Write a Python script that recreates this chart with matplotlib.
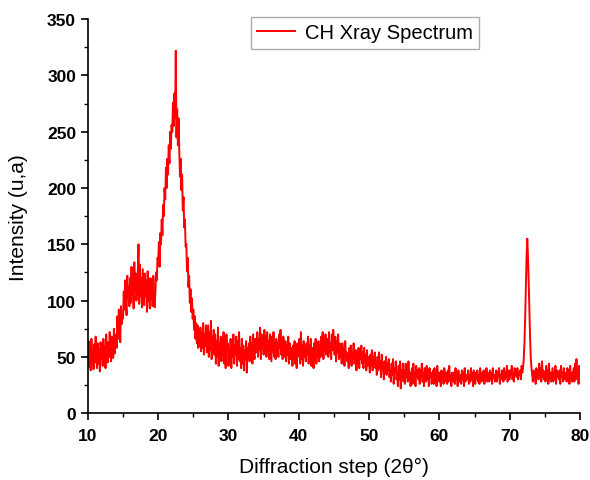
import numpy as np
import matplotlib
matplotlib.use("Agg")
import matplotlib.pyplot as plt
from matplotlib.ticker import MultipleLocator

# Diffraction angle 2theta, 10.0 .. 80.0 in 0.1 steps
two_theta = np.round(np.arange(100, 801) / 10.0, 1)

# Intensity values (one row per degree, 10 values)
intensity = [
    52, 64, 41, 58, 38, 66, 47, 55, 39, 61,      # 10
    45, 68, 50, 40, 62, 44, 57, 37, 63, 49,      # 11
    56, 42, 66, 48, 59, 40, 70, 52, 45, 63,      # 12
    50, 72, 55, 46, 68, 58, 49, 75, 53, 64,      # 13
    70, 58, 86, 66, 92, 74, 63, 95, 79, 88,      # 14
    84, 108, 92, 118, 98, 87, 122, 102, 113, 95, # 15
    120, 98, 130, 105, 116, 93, 134, 108, 124, 100,  # 16
    110, 126, 150, 97, 132, 104, 120, 94, 128, 112,  # 17
    96, 124, 104, 118, 90, 126, 100, 114, 93, 120,   # 18
    102, 118, 95, 122, 99, 94, 108, 125, 118, 138,   # 19
    135, 152, 130, 160, 150, 172, 158, 185, 175, 200,  # 20
    190, 218, 200, 226, 212, 238, 222, 250, 235, 256,  # 21
    250, 276, 255, 284, 262, 322, 245, 270, 238, 262,  # 22
    232, 210, 226, 198, 212, 180, 192, 165, 172, 148,  # 23
    150, 126, 138, 112, 122, 98, 110, 90, 102, 84,     # 24
    92, 74, 86, 66, 80, 62, 78, 58, 74, 60,      # 25
    76, 55, 72, 58, 80, 52, 70, 60, 78, 54,      # 26
    66, 78, 50, 72, 56, 82, 48, 68, 58, 74,      # 27
    52, 70, 44, 64, 50, 76, 42, 62, 54, 68,      # 28
    46, 66, 52, 72, 44, 60, 40, 70, 55, 62,      # 29
    42, 58, 48, 66, 40, 62, 50, 70, 44, 60,      # 30
    52, 68, 42, 64, 48, 72, 46, 58, 40, 66,      # 31
    44, 60, 38, 56, 48, 64, 36, 58, 50, 62,      # 32
    46, 68, 52, 62, 44, 70, 56, 48, 66, 54,      # 33
    60, 72, 50, 66, 56, 76, 48, 70, 58, 64,      # 34
    52, 74, 60, 68, 50, 72, 56, 64, 48, 70,      # 35
    58, 46, 68, 54, 72, 50, 62, 48, 66, 56,      # 36
    62, 50, 70, 58, 74, 52, 66, 48, 68, 60,      # 37
    50, 64, 46, 60, 52, 68, 44, 62, 48, 58,      # 38
    56, 42, 60, 48, 64, 44, 58, 40, 62, 50,      # 39
    52, 66, 44, 72, 48, 60, 42, 64, 50, 58,      # 40
    46, 62, 52, 68, 44, 60, 50, 66, 42, 58,      # 41
    54, 40, 62, 48, 66, 44, 58, 50, 64, 46,      # 42
    60, 50, 68, 54, 72, 48, 64, 56, 70, 52,      # 43
    58, 66, 50, 72, 54, 62, 48, 70, 56, 74,      # 44
    60, 52, 68, 46, 64, 54, 70, 48, 62, 50,      # 45
    56, 44, 62, 48, 58, 42, 64, 50, 54, 46,      # 46
    52, 40, 58, 46, 60, 42, 54, 48, 62, 44,      # 47
    46, 56, 38, 52, 44, 58, 40, 54, 48, 60,      # 48
    44, 54, 40, 58, 46, 52, 38, 56, 42, 50,      # 49
    48, 36, 52, 42, 56, 38, 50, 44, 54, 40,      # 50
    44, 34, 50, 38, 54, 40, 46, 32, 52, 42,      # 51
    40, 30, 46, 36, 50, 34, 44, 38, 48, 32,      # 52
    38, 28, 44, 34, 48, 26, 40, 36, 46, 30,      # 53
    36, 24, 42, 30, 46, 22, 38, 32, 44, 28,      # 54
    38, 26, 44, 32, 40, 28, 46, 30, 36, 24,      # 55
    34, 40, 26, 44, 30, 36, 24, 42, 32, 38,      # 56
    30, 40, 26, 38, 32, 44, 28, 36, 24, 40,      # 57
    34, 28, 42, 30, 38, 24, 40, 32, 36, 26,      # 58
    32, 38, 26, 40, 28, 34, 24, 42, 30, 36,      # 59
    28, 36, 24, 38, 30, 34, 26, 40, 28, 36,      # 60
    32, 26, 38, 28, 42, 30, 34, 24, 36, 30,      # 61
    28, 36, 26, 40, 30, 34, 24, 38, 32, 28,      # 62
    34, 26, 38, 30, 36, 24, 40, 28, 34, 30,      # 63
    30, 38, 26, 34, 28, 40, 30, 36, 24, 38,      # 64
    32, 26, 36, 30, 38, 28, 34, 26, 40, 30,      # 65
    28, 36, 30, 38, 26, 34, 30, 40, 28, 36,      # 66
    32, 28, 38, 30, 36, 26, 40, 32, 34, 28,      # 67
    30, 38, 28, 36, 32, 40, 26, 34, 30, 38,      # 68
    34, 28, 40, 30, 36, 32, 42, 28, 38, 34,      # 69
    30, 38, 34, 42, 30, 36, 28, 40, 34, 38,      # 70
    32, 40, 30, 36, 34, 38, 30, 42, 36, 40,      # 71
    48, 62, 84, 112, 138, 155, 140, 118, 92, 68, # 72
    50, 40, 34, 28, 38, 30, 36, 26, 40, 32,      # 73
    38, 30, 44, 34, 40, 28, 46, 32, 38, 30,      # 74
    36, 28, 42, 32, 38, 26, 44, 30, 36, 28,      # 75
    34, 40, 28, 36, 30, 42, 26, 38, 32, 36,      # 76
    30, 38, 26, 42, 32, 36, 28, 40, 30, 34,      # 77
    36, 28, 40, 32, 38, 26, 42, 30, 36, 28,      # 78
    34, 40, 28, 44, 30, 48, 32, 38, 26, 42,      # 79
    36,                                          # 80
]

series_label = "CH Xray Spectrum"
x_label = "Diffraction step (2\u03b8\u00b0)"
y_label = "Intensity (u,a)"

plt.rcParams['font.family'] = ['Liberation Sans', 'DejaVu Sans']

fig = plt.figure(figsize=(5.90, 4.81), dpi=100)
ax = fig.add_axes([0.149, 0.139, 0.834, 0.819])

ax.plot(two_theta, intensity, color='#ff0000', lw=1.4, label=series_label)

ax.set_xlim(10, 80)
ax.set_ylim(0, 350)
ax.xaxis.set_major_locator(MultipleLocator(10))
ax.xaxis.set_minor_locator(MultipleLocator(5))
ax.yaxis.set_major_locator(MultipleLocator(50))
ax.yaxis.set_minor_locator(MultipleLocator(25))

for s in ['top', 'right']:
    ax.spines[s].set_visible(False)
for s in ['left', 'bottom']:
    ax.spines[s].set_linewidth(1.2)

ax.tick_params(axis='both', which='major', direction='out', length=5, width=1.2,
               labelsize=12.5)
ax.tick_params(axis='x', which='major', pad=6)
ax.tick_params(axis='both', which='minor', direction='out', length=3, width=1.0)
for lbl in ax.get_xticklabels() + ax.get_yticklabels():
    lbl.set_fontweight('bold')

ax.set_xlabel(x_label, fontsize=15, labelpad=10)
ax.set_ylabel(y_label, fontsize=15, labelpad=14)

leg = ax.legend(loc='upper left', bbox_to_anchor=(0.31, 1.03), fontsize=14.5,
                frameon=True, fancybox=False, edgecolor='#999999',
                handlelength=1.9, borderpad=0.3, handletextpad=0.5)
leg.get_frame().set_linewidth(1.0)

fig.savefig("out.png", dpi=100)
